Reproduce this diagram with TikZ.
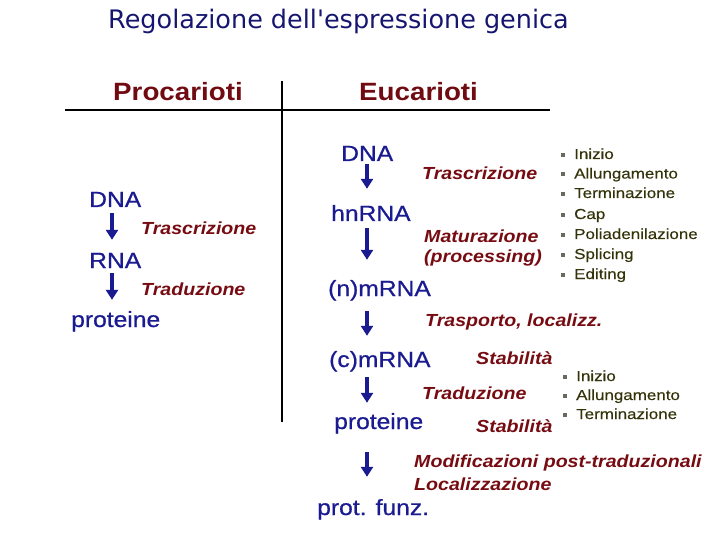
\documentclass[tikz,border=0pt]{standalone}
\usepackage{fontspec}
\setmainfont{Liberation Sans}
\newfontfamily\blufont[FakeStretch=1.12,FakeBold=0.7]{Liberation Sans}
\newfontfamily\corsfont[FakeStretch=1.12]{Liberation Sans}
\newfontfamily\capofont[FakeStretch=1.11]{Liberation Sans}
\newfontfamily\vocefont[FakeStretch=1.17,FakeBold=0.3]{Liberation Sans}
\newfontfamily\titfont{DejaVu Sans}
\usetikzlibrary{arrows.meta}
\definecolor{blu}{RGB}{26,26,145}
\definecolor{navy}{RGB}{22,22,112}
\definecolor{rosso}{RGB}{118,12,18}
\definecolor{oliva}{RGB}{51,51,10}
\definecolor{grigio}{RGB}{105,105,95}
\newcommand{\quadr}{\textcolor{grigio}{\rule[2pt]{4pt}{4pt}}\hspace{9pt}}
\begin{document}
\begin{tikzpicture}[x=1pt,y=-1pt,
    mol/.style={anchor=base west,inner sep=0pt,text height=16pt,text depth=0pt,text=blu,font=\blufont\fontsize{22}{22}\selectfont},
    proc/.style={anchor=base west,inner sep=0pt,text=rosso,font=\corsfont\bfseries\itshape\fontsize{17.5}{20}\selectfont},
    voce/.style={anchor=base west,inner sep=0pt,text=oliva,font=\vocefont\fontsize{14.5}{15}\selectfont},
    capo/.style={anchor=base west,inner sep=0pt,text=rosso!95!black,font=\capofont\bfseries\fontsize{25}{25}\selectfont},
    freccia/.style={blu,line width=4pt,-{Triangle[width=12pt,length=10pt]}}]
    \useasboundingbox (0,0) rectangle (720,540);
    \node[anchor=base west,inner sep=0pt,text=navy,font=\titfont\fontsize{25.5}{26}\selectfont] (titolo) at (108,29) {Regolazione dell'espressione genica}; %titolo
    \node[capo] (procarioti) at (113,101) {Procarioti};
    \node[capo] (eucarioti) at (359,101) {Eucarioti};
    \draw[line width=2pt] (65,110)--(550,110); %riga
    \draw[line width=2.5pt] (282,81)--(282,422); %colonna
    \coordinate (asseP) at (112,0);
    \coordinate (asseE) at (367,0);
    % procarioti
    \node[mol] (dnaP) at (89,207) {DNA};
    \node[mol] (rnaP) at (89,268) {RNA};
    \node[mol] (protP) at (71,327) {proteine};
    \node[proc] (trascrP) at (141,235) {Trascrizione};
    \node[proc] (tradP) at (141,295) {Traduzione};
    \draw[freccia,shorten <=6pt,shorten >=12pt] (dnaP.south -| asseP)--(rnaP.north -| asseP);
    \draw[freccia,shorten <=5pt,shorten >=11pt] (rnaP.south -| asseP)--(protP.north -| asseP);
    % eucarioti
    \node[mol] (dnaE) at (341,161) {DNA};
    \node[mol] (hnrna) at (331,221) {hnRNA};
    \node[mol] (nmrna) at (328,296) {(n)mRNA};
    \node[mol] (cmrna) at (329,367) {(c)mRNA};
    \node[mol] (protE) at (334,429) {proteine};
    \node[mol] (funz) at (317,515) {prot. funz.};
    \draw[freccia,shorten <=3pt,shorten >=16pt] (dnaE.south -| asseE)--(hnrna.north -| asseE);
    \draw[freccia,shorten <=7pt,shorten >=20pt] (hnrna.south -| asseE)--(nmrna.north -| asseE);
    \draw[freccia,shorten <=15pt,shorten >=15pt] (nmrna.south -| asseE)--(cmrna.north -| asseE);
    \draw[freccia,shorten <=10pt,shorten >=10pt] (cmrna.south -| asseE)--(protE.north -| asseE);
    \draw[freccia,shorten <=23pt,shorten >=22pt] (protE.south -| asseE)--(funz.north -| asseE);
    \node[proc] (trascrE) at (422,180) {Trascrizione};
    \node[proc] (matur) at (424,243) {Maturazione};
    \node[proc] (process) at (424,262) {(processing)};
    \node[proc] (trasp) at (425,326) {Trasporto, localizz.};
    \node[proc] (stab1) at (476,364) {Stabilità};
    \node[proc] (tradE) at (422,399) {Traduzione};
    \node[proc] (stab2) at (476,432) {Stabilità};
    \node[proc] (modif) at (414,467) {Modificazioni post-traduzionali};
    \node[proc] (localiz) at (414,490) {Localizzazione};
    % elenchi
    \foreach \t [count=\i from 0] in {Inizio,Allungamento,Terminazione}
        \node[voce] (fasiT-\i) at (561,{159+19.5*\i}) {\quadr\t};
    \foreach \t [count=\i from 0] in {Cap,Poliadenilazione,Splicing,Editing}
        \node[voce] (fasiM-\i) at (561,{219+20*\i}) {\quadr\t};
    \foreach \t [count=\i from 0] in {Inizio,Allungamento,Terminazione}
        \node[voce] (fasiL-\i) at (563,{381+19*\i}) {\quadr\t};
\end{tikzpicture}
\end{document}
